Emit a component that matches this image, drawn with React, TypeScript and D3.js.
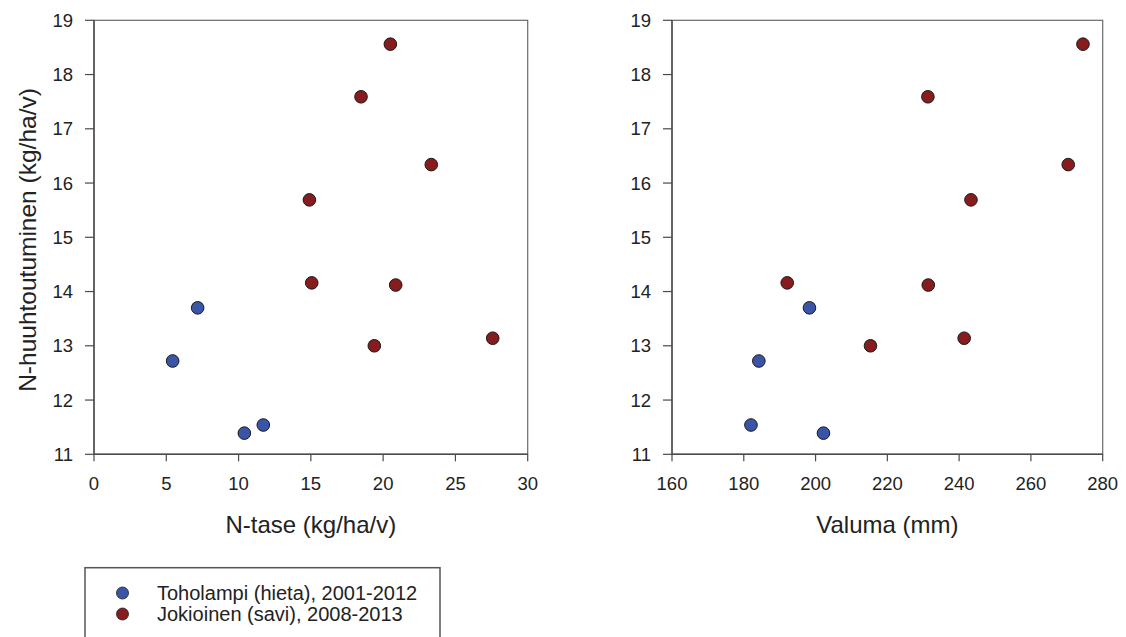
import React from "react";
import * as d3 from "d3";

const seriesNames = ["Toholampi (hieta), 2001-2012", "Jokioinen (savi), 2008-2013"];
const seriesColors = ["#3a55a8", "#861c1e"];

// N-leaching (y) shared by both panels
const tohoLeach = [12.72, 13.70, 11.39, 11.54];
const tohoBalance = [5.44, 7.17, 10.40, 11.71];
const tohoRunoff = [184.2, 198.3, 202.2, 182.0];

const jokiLeach = [18.56, 17.59, 16.34, 15.69, 14.16, 14.12, 13.0, 13.14];
const jokiBalance = [20.5, 18.47, 23.33, 14.9, 15.06, 20.87, 19.39, 27.58];
const jokiRunoff = [274.5, 231.3, 270.4, 243.3, 192.1, 231.4, 215.3, 241.4];

const yTicks = [11, 12, 13, 14, 15, 16, 17, 18, 19];
const xTicksLeft = [0, 5, 10, 15, 20, 25, 30];
const xTicksRight = [160, 180, 200, 220, 240, 260, 280];

const W = 1126;
const H = 637;
const FONT = "Liberation Sans, Arial, sans-serif";
const TEXT = "#222";
const AXIS = "#4a4a4a";

type Pt = { x: number; y: number; s: number };

function Panel(props: {
  x0: number;
  x1: number;
  domain: [number, number];
  ticks: number[];
  title: string;
  points: Pt[];
  yTitle?: string;
}) {
  const { x0, x1, domain, ticks, title, points, yTitle } = props;
  const y0 = 20.3;
  const yb = 454.3;
  const x = d3.scaleLinear().domain(domain).range([x0, x1]);
  const y = d3.scaleLinear().domain([11, 19]).range([yb, y0]);
  return (
    <g>
      <rect x={x0} y={y0} width={x1 - x0} height={yb - y0} fill="none" stroke="#6a6a6a" strokeWidth={1.2} />
      <line x1={x0} x2={x0} y1={y0} y2={yb} stroke={AXIS} strokeWidth={1.4} />
      <line x1={x0} x2={x1} y1={yb} y2={yb} stroke={AXIS} strokeWidth={1.4} />
      {yTicks.map((t) => (
        <g key={"y" + t}>
          <line x1={x0 - 9} x2={x0} y1={y(t)} y2={y(t)} stroke={AXIS} strokeWidth={1.2} />
          <text x={x0 - 21} y={y(t)} dy="0.35em" textAnchor="end" fontSize={18.5} fill={TEXT} fontFamily={FONT}>
            {t}
          </text>
        </g>
      ))}
      {ticks.map((t) => (
        <g key={"x" + t}>
          <line x1={x(t)} x2={x(t)} y1={yb} y2={yb + 7} stroke={AXIS} strokeWidth={1.2} />
          <text x={x(t)} y={490} textAnchor="middle" fontSize={18.5} fill={TEXT} fontFamily={FONT}>
            {t}
          </text>
        </g>
      ))}
      <text x={(x0 + x1) / 2} y={533} textAnchor="middle" fontSize={24} fill={TEXT} fontFamily={FONT}>
        {title}
      </text>
      {yTitle && (
        <text
          transform={`translate(36,240) rotate(-90)`}
          textAnchor="middle"
          fontSize={24.5}
          fill={TEXT}
          fontFamily={FONT}
        >
          {yTitle}
        </text>
      )}
      {points.map((p, i) => (
        <circle key={i} cx={x(p.x)} cy={y(p.y)} r={6.3} fill={seriesColors[p.s]} stroke="#1a1a1a" strokeWidth={1} />
      ))}
    </g>
  );
}

export default function App() {
  const leftPts: Pt[] = [
    ...tohoBalance.map((v, i) => ({ x: v, y: tohoLeach[i], s: 0 })),
    ...jokiBalance.map((v, i) => ({ x: v, y: jokiLeach[i], s: 1 })),
  ];
  const rightPts: Pt[] = [
    ...tohoRunoff.map((v, i) => ({ x: v, y: tohoLeach[i], s: 0 })),
    ...jokiRunoff.map((v, i) => ({ x: v, y: jokiLeach[i], s: 1 })),
  ];
  return (
    <svg
      width={W}
      height={H}
      style={{ position: "absolute", left: 0, top: 0, background: "#fff" }}
    >
      <rect width={W} height={H} fill="#fff" />
      <Panel
        x0={94}
        x1={527.7}
        domain={[0, 30]}
        ticks={xTicksLeft}
        title="N-tase (kg/ha/v)"
        points={leftPts}
        yTitle="N-huuhtoutuminen (kg/ha/v)"
      />
      <Panel
        x0={672}
        x1={1102.7}
        domain={[160, 280]}
        ticks={xTicksRight}
        title="Valuma (mm)"
        points={rightPts}
      />
      <rect x={85} y={567.7} width={355} height={90} fill="none" stroke="#555" strokeWidth={1.5} />
      {seriesNames.map((n, i) => (
        <g key={n}>
          <circle cx={122.5} cy={593 + i * 21} r={6} fill={seriesColors[i]} stroke="#1a1a1a" strokeWidth={0.8} />
          <text x={157} y={600 + i * 21} fontSize={20} fill={TEXT} fontFamily={FONT}>
            {n}
          </text>
        </g>
      ))}
    </svg>
  );
}
